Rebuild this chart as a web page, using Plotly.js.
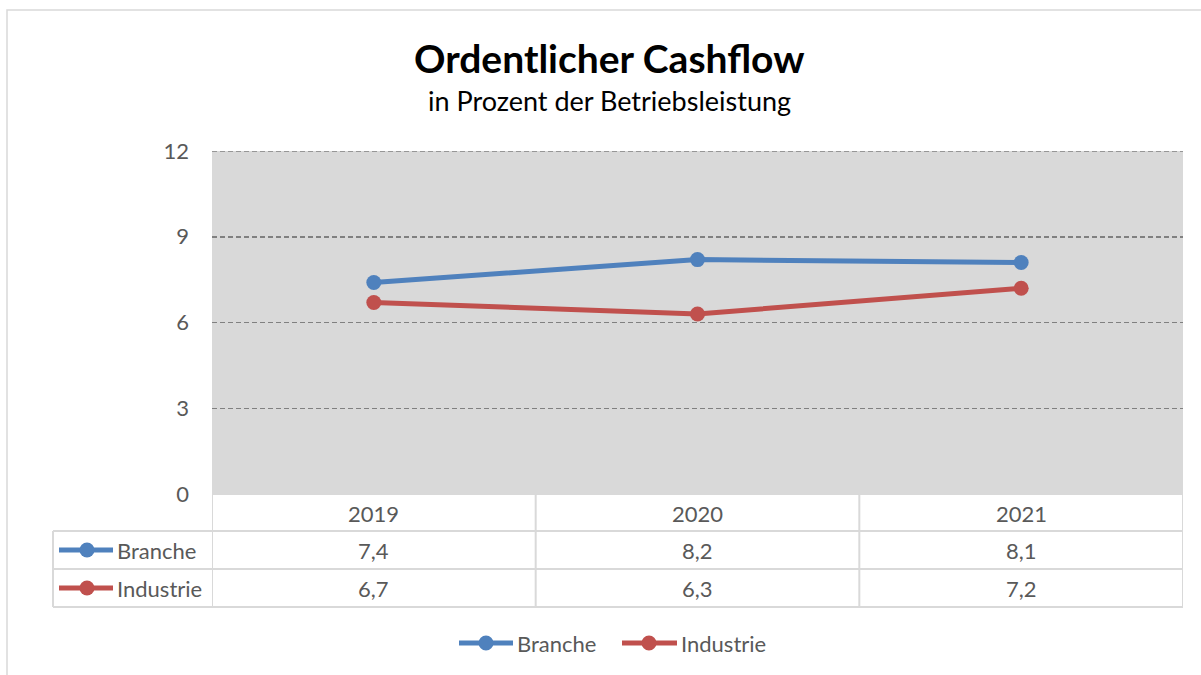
<!DOCTYPE html>
<html><head><meta charset="utf-8">
<script src="https://cdn.plot.ly/plotly-3.0.1.min.js"></script>
<style>html,body{margin:0;padding:0;background:#fff;}#chart{width:1201px;height:675px;}</style>
</head><body><div id="chart"></div>
<script>
const categories = ["2019", "2020", "2021"];
const seriesNames = ["Branche", "Industrie"];
const branche = [7.4, 8.2, 8.1];
const industrie = [6.7, 6.3, 7.2];
const yTicks = [0, 3, 6, 9, 12];
const titleText = "Ordentlicher Cashflow";
const subtitleText = "in Prozent der Betriebsleistung";

const colors = ["#4f81bd", "#c0504d"];
const FONT = "Lato, 'Open Sans', sans-serif";
const W = 1201, H = 675, L = 212, R = 1183, T = 151, B = 494;
const px = x => (x - L) / (R - L);
const py = y => (B - y) / (B - T);
const fmt = v => v.toFixed(1).replace(".", ",");
const seriesVals = [branche, industrie];

const traces = seriesVals.map((vals, i) => ({
  type: "scatter", mode: "lines+markers", name: seriesNames[i],
  x: categories, y: vals,
  line: {color: colors[i], width: 5},
  marker: {color: colors[i], size: 15},
  showlegend: false, hoverinfo: "skip"
}));

const border = "#d9d9d9";
const shapes = [];
const annotations = [];
// outer chart border
shapes.push({type: "rect", xref: "paper", yref: "paper", x0: px(7), x1: px(1240), y0: py(10), y1: py(720),
  line: {color: border, width: 1.5}, fillcolor: "rgba(0,0,0,0)", layer: "below"});
// top gridline (at range edge)
const maxTick = yTicks[yTicks.length - 1];
shapes.push({type: "line", xref: "paper", yref: "y", x0: 0, x1: 1, y0: maxTick, y1: maxTick, layer: "below",
  line: {color: "#808080", width: 1.5, dash: "5px,3px"}});
// table grid
const rowY = [494, 531, 569, 607];
shapes.push({type: "line", xref: "paper", yref: "paper", x0: 0, x1: 1, y0: py(rowY[0]), y1: py(rowY[0]), line: {color: border, width: 2}});
for (let r = 1; r < rowY.length; r++) {
  shapes.push({type: "line", xref: "paper", yref: "paper", x0: px(53), x1: 1, y0: py(rowY[r]), y1: py(rowY[r]), line: {color: border, width: 2}});
}
shapes.push({type: "line", xref: "paper", yref: "paper", x0: px(53), x1: px(53), y0: py(531), y1: py(607), line: {color: border, width: 2}});
for (let c = 0; c <= categories.length; c++) {
  shapes.push({type: "line", xref: "x", yref: "paper", x0: c - 0.5, x1: c - 0.5, y0: py(494), y1: py(607), line: {color: border, width: 2}});
}
const txtFont = {family: FONT, size: 22, color: "#595959"};
categories.forEach((cat, c) => {
  annotations.push({xref: "x", yref: "paper", x: c, y: py(513), text: cat, showarrow: false, font: txtFont, xanchor: "center", yanchor: "middle"});
});
seriesVals.forEach((vals, i) => {
  const yc = [550, 588][i];
  vals.forEach((v, c) => {
    annotations.push({xref: "x", yref: "paper", x: c, y: py(yc), text: fmt(v), showarrow: false, font: txtFont, xanchor: "center", yanchor: "middle"});
  });
  // icon in table
  shapes.push({type: "line", xref: "paper", yref: "paper", x0: px(59), x1: px(113), y0: py(yc), y1: py(yc), line: {color: colors[i], width: 5}});
  shapes.push({type: "circle", xref: "paper", yref: "paper", xsizemode: "pixel", ysizemode: "pixel", xanchor: px(87), yanchor: py(yc), x0: -7.5, x1: 7.5, y0: -7.5, y1: 7.5, fillcolor: colors[i], line: {width: 0}});
  annotations.push({xref: "paper", yref: "paper", x: px(115), y: py(yc), text: seriesNames[i], showarrow: false, font: txtFont, xanchor: "left", yanchor: "middle"});
});
// bottom legend
const legX = [[459, 513, 486, 515], [622, 677, 649, 679]];
seriesNames.forEach((n, i) => {
  const [a, b, m, t] = legX[i];
  const yc = 643;
  shapes.push({type: "line", xref: "paper", yref: "paper", x0: px(a), x1: px(b), y0: py(yc), y1: py(yc), line: {color: colors[i], width: 5}});
  shapes.push({type: "circle", xref: "paper", yref: "paper", xsizemode: "pixel", ysizemode: "pixel", xanchor: px(m), yanchor: py(yc), x0: -7.5, x1: 7.5, y0: -7.5, y1: 7.5, fillcolor: colors[i], line: {width: 0}});
  annotations.push({xref: "paper", yref: "paper", x: px(t), y: py(yc), text: n, showarrow: false, font: txtFont, xanchor: "left", yanchor: "middle"});
});
// titles
annotations.push({xref: "paper", yref: "paper", x: px(609), y: py(58), text: "<b>" + titleText + "</b>", showarrow: false, font: {family: FONT, size: 39, color: "#000"}, xanchor: "center", yanchor: "middle"});
annotations.push({xref: "paper", yref: "paper", x: px(609), y: py(101), text: subtitleText, showarrow: false, font: {family: FONT, size: 27, color: "#000"}, xanchor: "center", yanchor: "middle"});

const layout = {
  width: W, height: H,
  margin: {l: L, r: W - R, t: T, b: H - B, pad: 0},
  paper_bgcolor: "#fff", plot_bgcolor: "#d9d9d9",
  showlegend: false,
  xaxis: {type: "category", range: [-0.5, 2.5], showticklabels: false, showgrid: false, zeroline: false, showline: false, ticks: ""},
  yaxis: {range: [0, 12], tickvals: yTicks, ticktext: yTicks.map(String), showgrid: true, gridcolor: "#808080", griddash: "5px,3px", gridwidth: 1.5,
    zeroline: false, showline: false, ticks: "", ticklabelstandoff: 22, tickfont: {family: FONT, size: 22, color: "#595959"}},
  shapes: shapes, annotations: annotations
};
Plotly.newPlot("chart", traces, layout, {displayModeBar: false, staticPlot: true});
</script></body></html>
